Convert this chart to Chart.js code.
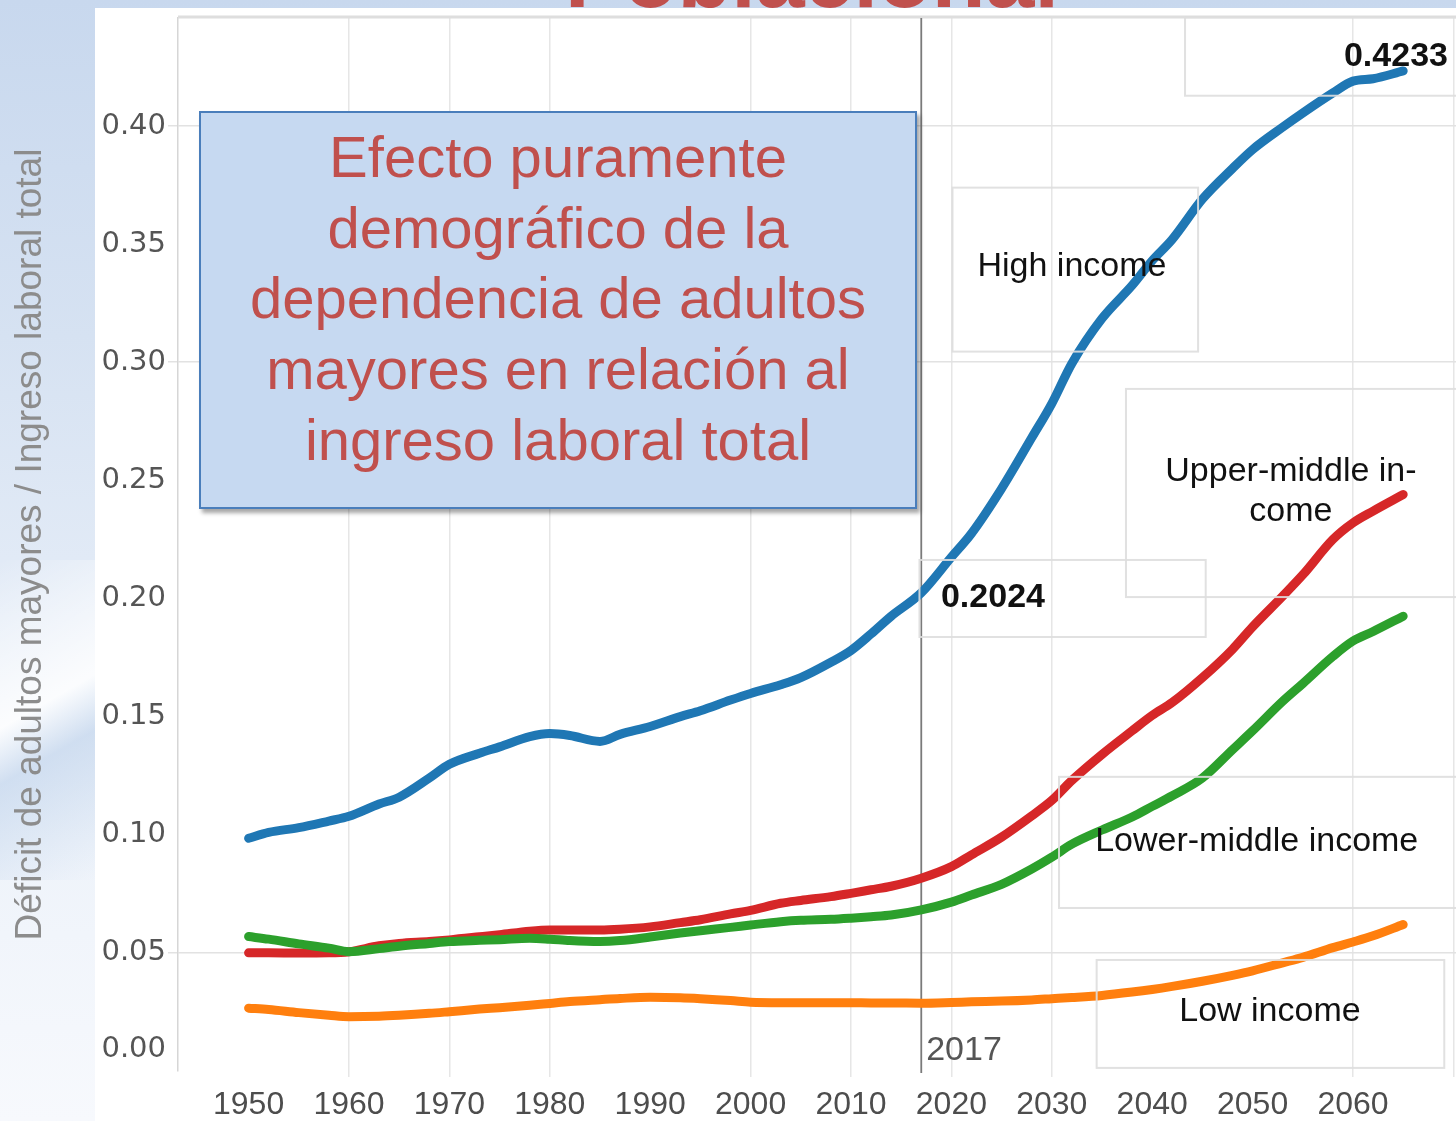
<!DOCTYPE html>
<html>
<head>
<meta charset="utf-8">
<script src="https://cdn.jsdelivr.net/npm/chart.js@4.4.1/dist/chart.umd.min.js"></script>
<style>
  html, body { margin:0; padding:0; }
  body { width:1456px; height:1121px; position:relative; overflow:hidden;
    background: linear-gradient(180deg, #c8d8ee 0%, #d6e2f2 30%, #e4ecf7 55%, #eef3fa 75%, #f7f9fd 100%); font-family: "Liberation Sans", Arial, sans-serif; }
  #band { position:absolute; left:0; top:560px; width:95px; height:320px;
    background: linear-gradient(150deg, rgba(255,255,255,0) 0%, rgba(255,255,255,0.85) 45%, rgba(190,210,235,0.6) 60%, rgba(255,255,255,0) 100%); }
  #toptitle { position:absolute; left:565px; top:-67px; font: bold 88px "Liberation Sans", Arial, sans-serif; color:#c0504d; line-height:88px; white-space:nowrap; }
  #panel { position:absolute; left:95px; top:8px; right:0; bottom:0; background:#ffffff; }
  #c { position:absolute; left:0; top:0; }
  #note { position:absolute; left:199px; top:111px; width:718px; height:398px; box-sizing:border-box;
    background:#c6d9f1; border:2px solid #4a7ebb; box-shadow: 3px 4px 4px rgba(0,0,0,0.35); }
  #notetext { position:absolute; left:199px; top:122px; width:718px; text-align:center;
    font: 58px "Liberation Sans", Arial, sans-serif; line-height:70.7px; color:#c0504d; }
</style>
</head>
<body>
<div id="band"></div>
<div id="toptitle">Poblacional</div>
<div id="panel"></div>
<canvas id="c" width="1456" height="1121"></canvas>
<div id="note"></div>
<div id="notetext">Efecto puramente<br>demográfico de la<br>dependencia de adultos<br>mayores en relación al<br>ingreso laboral total</div>
<script>
// ---------------- DATA ----------------
const years = [1950,1952,1955,1958,1960,1963,1965,1968,1970,1973,1975,1978,1980,1982,1985,1987,1990,1993,1995,1998,2000,2003,2005,2008,2010,2012,2014,2017,2020,2022,2025,2028,2030,2032,2035,2038,2040,2042,2045,2048,2050,2053,2055,2058,2060,2062,2065];

const highIncome = [0.0985,0.1010,0.1030,0.1058,0.1078, 0.1130,0.1159,0.1240,0.1298, 0.1345,0.1372,0.1415,0.1428, 0.1420,0.1395,0.1425,0.1458, 0.1500,0.1525,0.1570,0.1598, 0.1635,0.1665,0.1730,0.1780, 0.1850,0.1925,0.2024,0.2175, 0.2275,0.2465,0.2680,0.2825, 0.2995,0.3185,0.3325,0.3430, 0.3520,0.3690,0.3820,0.3900, 0.3995,0.4055,0.4140,0.4190, 0.4200,0.4233];

const upperMiddleIncome = [0.0500,0.0500,0.0499,0.0500,0.0505, 0.0530,0.0540,0.0548,0.0555, 0.0568,0.0577,0.0592,0.0597, 0.0597,0.0597,0.0600,0.0610, 0.0628,0.0640,0.0665,0.0680, 0.0710,0.0722,0.0738,0.0752, 0.0767,0.0782,0.0816,0.0865, 0.0915,0.0990,0.1080,0.1145, 0.1230,0.1340,0.1440,0.1505, 0.1560,0.1665,0.1785,0.1880, 0.2010,0.2100,0.2250,0.2320, 0.2370,0.2440];

const lowerMiddleIncome = [0.0569,0.0558,0.0538,0.0520,0.0505, 0.0518,0.0528,0.0540,0.0548, 0.0553,0.0556,0.0562,0.0558, 0.0552,0.0548,0.0552,0.0567, 0.0584,0.0594,0.0608,0.0618, 0.0632,0.0638,0.0642,0.0647, 0.0653,0.0660,0.0682,0.0715, 0.0745,0.0790,0.0855,0.0905, 0.0960,0.1020,0.1075,0.1120, 0.1165,0.1240,0.1360,0.1440, 0.1565,0.1640,0.1755,0.1820, 0.1860,0.1925];

const lowIncome = [0.0266,0.0260,0.0247,0.0236,0.0230, 0.0232,0.0236,0.0244,0.0251, 0.0262,0.0268,0.0278,0.0286, 0.0294,0.0302,0.0307,0.0312, 0.0310,0.0306,0.0298,0.0291, 0.0289,0.0289,0.0289,0.0289, 0.0288,0.0288,0.0287,0.0290, 0.0293,0.0296,0.0301,0.0306, 0.0311,0.0320,0.0334,0.0345, 0.0358,0.0380,0.0405,0.0424, 0.0458,0.0481,0.0522,0.0546, 0.0572,0.0620];

const seriesNames = ['High income', 'Upper-middle income', 'Lower-middle income', 'Low income'];
const xTickYears = [1950,1960,1970,1980,1990,2000,2010,2020,2030,2040,2050,2060,2070];
const yTickValues = [0.00,0.05,0.10,0.15,0.20,0.25,0.30,0.35,0.40];
const markerYear = 2017;
const yAxisTitle = 'Déficit de adultos mayores / Ingreso laboral total';

// --------------------------------------
const pts = arr => years.map((yr, i) => ({x: yr, y: arr[i]}));
const FONT = '"Liberation Sans", Arial, sans-serif';

const visibleX = [1960,1970,1980,2000,2010,2020,2030,2060,2070];
const visibleY = [5,30,40];

const val2017 = highIncome[years.indexOf(markerYear)];
const valEnd = highIncome[highIncome.length - 1];

const overlay = {
  id: 'overlay',
  beforeDatasetsDraw(chart) {
    const {ctx, chartArea: a, scales: {x}} = chart;
    ctx.save();
    ctx.strokeStyle = '#dedede';
    ctx.lineWidth = 3;
    ctx.beginPath(); ctx.moveTo(a.left, a.top - 1); ctx.lineTo(a.right, a.top - 1); ctx.stroke();
    const px = x.getPixelForValue(markerYear);
    ctx.strokeStyle = '#7a7a7a';
    ctx.lineWidth = 1.8;
    ctx.beginPath(); ctx.moveTo(px, a.top); ctx.lineTo(px, a.bottom + 2); ctx.stroke();
    ctx.restore();
  },
  afterDatasetsDraw(chart, args, opts) {
    const {ctx, scales: {x, y}} = chart;
    ctx.save();
    ctx.strokeStyle = 'rgba(222,222,222,0.9)';
    ctx.lineWidth = 2;
    opts.boxes.forEach(b => {
      const x1 = x.getPixelForValue(b.x1), x2 = x.getPixelForValue(b.x2);
      const y1 = y.getPixelForValue(b.y1), y2 = y.getPixelForValue(b.y2);
      ctx.strokeRect(x1, y1, x2 - x1, y2 - y1);
    });
    opts.labels.forEach(l => {
      ctx.font = (l.bold ? 'bold ' : '') + l.size + 'px ' + FONT;
      ctx.fillStyle = l.color || '#111111';
      ctx.textAlign = l.align || 'center';
      ctx.textBaseline = 'middle';
      const lines = Array.isArray(l.text) ? l.text : [l.text];
      const px = x.getPixelForValue(l.x), py = y.getPixelForValue(l.y);
      const lh = l.lineHeight || 40;
      lines.forEach((t, i) => {
        ctx.fillText(t, px, py + (i - (lines.length - 1) / 2) * lh);
      });
    });
    ctx.restore();
  }
};

new Chart(document.getElementById('c'), {
  type: 'line',
  data: {
    datasets: [
      {label: seriesNames[0], data: pts(highIncome), borderColor: '#1f77b4', order: 2},
      {label: seriesNames[1], data: pts(upperMiddleIncome), borderColor: '#d62728', order: 1},
      {label: seriesNames[2], data: pts(lowerMiddleIncome), borderColor: '#2ca02c', order: 0},
      {label: seriesNames[3], data: pts(lowIncome), borderColor: '#ff7f0e', order: 3}
    ].map(d => Object.assign(d, {
      borderWidth: 9, pointRadius: 0, fill: false,
      cubicInterpolationMode: 'monotone',
      borderCapStyle: 'round', borderJoinStyle: 'round'
    }))
  },
  options: {
    responsive: false,
    animation: false,
    devicePixelRatio: 1,
    layout: {padding: {top: 18, left: 0, right: 0, bottom: 0}},
    plugins: {
      legend: {display: false},
      tooltip: {enabled: false},
      overlay: {
        boxes: [
          {x1: 2043.27, x2: 2073, y1: 0.4460, y2: 0.4128},
          {x1: 2020.11, x2: 2044.57, y1: 0.3739, y2: 0.3045},
          {x1: 2016.82, x2: 2045.33, y1: 0.2163, y2: 0.1837},
          {x1: 2037.39, x2: 2073, y1: 0.2887, y2: 0.2006},
          {x1: 2030.72, x2: 2073, y1: 0.1245, y2: 0.0690},
          {x1: 2034.47, x2: 2069.09, y1: 0.0470, y2: 0.0013}
        ],
        labels: [
          {text: valEnd.toFixed(4), x: 2064.28, y: 0.4292, bold: true, size: 34},
          {text: seriesNames[0], x: 2032.01, y: 0.3404, size: 34},
          {text: val2017.toFixed(4), x: 2024.14, y: 0.2002, bold: true, size: 34},
          {text: ['Upper-middle in-', 'come'], x: 2053.82, y: 0.2452, size: 34, lineHeight: 40},
          {text: seriesNames[2], x: 2050.41, y: 0.0971, size: 34},
          {text: seriesNames[3], x: 2051.73, y: 0.0251, size: 34},
          {text: String(markerYear), x: 2017.49, y: 0.0085, size: 34, align: 'left', color: '#555555'}
        ]
      }
    },
    scales: {
      x: {
        type: 'linear',
        min: 1942.97,
        max: 2070.26,
        afterBuildTicks: s => { s.ticks = xTickYears.map(v => ({value: v})); },
        afterFit: s => { s.height = 50; s.paddingLeft = 0; s.paddingRight = 0; },
        ticks: {
          callback: v => (v === 2070 ? '' : String(v)),
          font: {family: FONT, size: 32},
          color: '#4d4d4d',
          padding: 9,
          maxRotation: 0,
          autoSkip: false
        },
        grid: {
          color: c => (c.tick && visibleX.includes(c.tick.value) ? '#e6e6e6' : 'rgba(0,0,0,0)'),
          lineWidth: 1.5,
          tickLength: 6
        },
        border: {display: false}
      },
      y: {
        type: 'linear',
        min: 0,
        max: 0.4457,
        afterBuildTicks: s => { s.ticks = yTickValues.map(v => ({value: v})); },
        afterFit: s => { s.width = 178; s.paddingTop = 0; s.paddingBottom = 0; },
        ticks: {
          callback: v => (v === 0 ? ['0.00', ''] : v.toFixed(2)),
          font: {family: '"DejaVu Sans", Verdana, sans-serif', size: 29, lineHeight: 1.5},
          color: '#555555',
          padding: 2
        },
        grid: {
          color: c => (c.tick && visibleY.includes(Math.round(c.tick.value * 100)) ? '#e2e2e2' : 'rgba(0,0,0,0)'),
          lineWidth: 1.5,
          tickLength: 10
        },
        border: {display: true, color: '#d6d6d6', width: 1.5},
        title: {
          display: true,
          text: yAxisTitle,
          color: '#8c8c8c',
          font: {family: FONT, size: 37},
          padding: {top: 9, bottom: 0}
        }
      }
    }
  },
  plugins: [overlay]
});
</script>
</body>
</html>
